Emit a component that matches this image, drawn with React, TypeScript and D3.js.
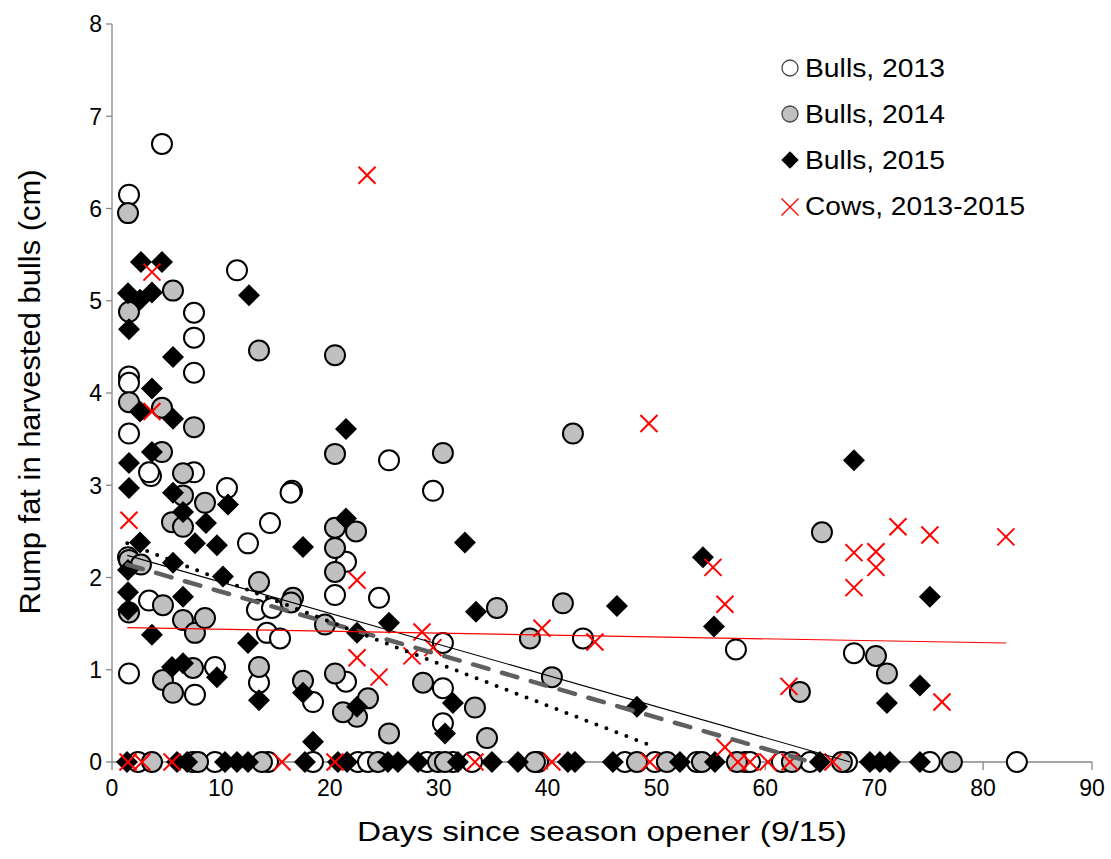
import React from "react";
import * as d3 from "d3";

// ---- Data (days since opener, rump fat cm) ----
const bulls2013: [number, number][] = [
  [4.59, 6.7], [1.56, 6.15], [11.48, 5.33], [7.53, 4.87], [7.53, 4.6], [7.53, 4.22],
  [1.56, 4.18], [1.56, 4.11], [1.56, 3.56], [3.58, 3.1], [3.4, 3.14], [7.53, 3.14],
  [10.56, 2.97], [16.53, 2.94], [16.4, 2.92], [14.51, 2.59], [12.49, 2.37], [25.44, 3.27],
  [29.48, 2.94], [21.49, 2.17], [20.48, 1.81], [24.52, 1.78], [30.39, 1.29], [21.49, 0.87],
  [30.39, 0.8], [18.46, 0.65], [30.39, 0.42], [43.25, 1.34], [57.3, 1.22], [68.14, 1.18],
  [3.4, 1.75], [13.31, 1.65], [14.69, 1.67], [14.23, 1.4], [15.43, 1.34], [9.46, 1.03],
  [1.56, 0.96], [7.62, 0.73], [13.5, 0.86], [1.47, 2.22],
];
const bulls2013Zero: number[] = [
  2.39, 7.44, 9.46, 14.33, 18.46, 22.59, 23.51, 28.93, 31.31, 33.06, 39.12, 47.11, 49.86,
  53.72, 58.13, 58.59, 61.52, 64.1, 67.49, 75.11, 83.1,
];

const bulls2014: [number, number][] = [
  [1.47, 5.95], [5.6, 5.11], [1.56, 4.88], [13.5, 4.46], [20.48, 4.41], [1.56, 3.9],
  [4.59, 3.84], [7.53, 3.63], [4.59, 3.36], [6.52, 3.13], [6.52, 2.89], [8.54, 2.81],
  [5.51, 2.6], [6.52, 2.55], [20.48, 3.34], [30.39, 3.35], [20.48, 2.54], [22.41, 2.5],
  [20.48, 2.32], [20.48, 2.06], [16.62, 1.78], [19.56, 1.49], [35.35, 1.67], [28.56, 0.86],
  [17.54, 0.88], [20.48, 0.96], [23.51, 0.69], [22.5, 0.49], [21.21, 0.54], [33.33, 0.59],
  [25.44, 0.31], [34.44, 0.26], [42.33, 3.56], [41.41, 1.72], [38.38, 1.34], [40.4, 0.92],
  [65.2, 2.49], [63.17, 0.76], [70.16, 1.15], [71.17, 0.96], [1.56, 2.19], [2.66, 2.14],
  [1.56, 1.62], [4.68, 1.7], [6.52, 1.54], [7.62, 1.4], [8.54, 1.56], [13.5, 1.95],
  [16.44, 1.73], [13.5, 1.03], [4.68, 0.89], [5.6, 0.75], [7.44, 1.02],
];
const bulls2014Zero: number[] = [
  3.67, 7.9, 13.77, 24.43, 29.94, 30.58, 38.84, 48.21, 50.96, 54.18, 57.39, 62.44, 67.03, 77.13,
];

const bulls2015: [number, number][] = [
  [2.66, 5.42], [4.59, 5.42], [1.47, 5.08], [2.57, 5.01], [3.67, 5.09], [1.56, 4.69],
  [12.58, 5.06], [5.6, 4.39], [3.67, 4.05], [2.57, 3.8], [5.6, 3.72], [3.67, 3.36],
  [1.56, 3.24], [1.56, 2.97], [5.6, 2.92], [6.52, 2.71], [8.63, 2.59], [10.65, 2.79],
  [2.57, 2.38], [7.62, 2.37], [9.64, 2.35], [17.54, 2.33], [5.6, 2.16], [1.47, 2.08],
  [1.47, 1.84], [1.47, 1.65], [6.52, 1.79], [10.19, 2.01], [3.67, 1.38], [12.49, 1.29],
  [5.51, 1.03], [6.52, 1.07], [9.64, 0.92], [13.5, 0.67], [21.49, 3.61], [21.49, 2.64],
  [32.41, 2.38], [33.43, 1.63], [25.44, 1.51], [22.5, 1.4], [17.54, 0.75], [22.5, 0.6],
  [31.31, 0.64], [30.58, 0.31], [18.46, 0.22], [46.37, 1.69], [55.28, 1.47], [54.27, 2.22],
  [48.21, 0.6], [68.14, 3.27], [75.11, 1.79], [74.2, 0.83], [71.17, 0.64],
];
const bulls2015Zero: number[] = [
  1.38, 5.97, 6.9, 10.38, 11.48, 12.49, 17.72, 20.75, 21.58, 25.34, 26.26, 28.1, 31.77,
  34.89, 37.28, 41.87, 42.52, 46.0, 52.16, 55.37, 65.01, 69.6, 70.52, 71.44, 74.2,
];

const cows: [number, number][] = [
  [23.42, 6.36], [3.67, 5.31], [3.67, 3.8], [1.56, 2.62], [49.31, 3.67], [22.5, 1.97],
  [28.47, 1.41], [29.48, 1.24], [22.5, 1.13], [27.55, 1.15], [24.52, 0.92], [39.49, 1.45],
  [44.35, 1.3], [55.19, 2.11], [56.29, 1.71], [62.17, 0.82], [56.29, 0.16], [72.18, 2.55],
  [75.11, 2.46], [82.09, 2.44], [68.14, 2.27], [70.16, 2.28], [70.16, 2.11], [68.14, 1.89],
  [76.22, 0.65],
];
const cowsZero: number[] = [
  1.47, 2.75, 5.51, 15.61, 20.48, 33.33, 40.4, 49.4, 57.48, 58.6, 60.24, 62.26, 66.21,
];

// trend lines (endpoints)
const trendSolid: [number, number][] = [[1.4, 2.24], [67.8, 0]];
const trendDashed: [number, number][] = [[1.4, 2.14], [63.6, 0.02]];
const trendDotted: [number, number][] = [[1.4, 2.37], [49.9, 0.16]];
const trendCows: [number, number][] = [[1.4, 1.456], [82.1, 1.29]];

const xTicks = [0, 10, 20, 30, 40, 50, 60, 70, 80, 90];
const yTicks = [0, 1, 2, 3, 4, 5, 6, 7, 8];

const legendItems = ["Bulls, 2013", "Bulls, 2014", "Bulls, 2015", "Cows, 2013-2015"];

const W = 1111;
const H = 859;
const FONT = "'Liberation Sans', Arial, sans-serif";

export default function App() {
  const x = d3.scaleLinear().domain([0, 90]).range([112, 1092]);
  const y = d3.scaleLinear().domain([0, 8]).range([762, 24]);
  const line = d3
    .line<[number, number]>()
    .x((d) => x(d[0]))
    .y((d) => y(d[1]));
  const diamond = d3.symbol().type(d3.symbolSquare).size(242)()!;
  const diamondLegend = d3.symbol().type(d3.symbolSquare).size(150)()!;

  const with0 = (arr: number[]): [number, number][] => arr.map((d) => [d, 0]);
  const s2013 = [...bulls2013, ...with0(bulls2013Zero)];
  const s2014 = [...bulls2014, ...with0(bulls2014Zero)];
  const s2015 = [...bulls2015, ...with0(bulls2015Zero)];
  const sCows = [...cows, ...with0(cowsZero)];
  const axisColor = "#878787";

  const Cross = ({ cx, cy, r, w }: { cx: number; cy: number; r: number; w: number }) => (
    <g>
      <line x1={cx - r} y1={cy - r} x2={cx + r} y2={cy + r} stroke="#ff0000" strokeWidth={w} />
      <line x1={cx - r} y1={cy + r} x2={cx + r} y2={cy - r} stroke="#ff0000" strokeWidth={w} />
    </g>
  );

  return (
    <svg
      width={W}
      height={H}
      style={{ position: "absolute", left: 0, top: 0, background: "#fff" }}
      fontFamily={FONT}
    >
      <rect x={0} y={0} width={W} height={H} fill="#fff" />
      {/* axes */}
      <line x1={x(0)} y1={y(0)} x2={x(0)} y2={y(8)} stroke={axisColor} strokeWidth={1.3} />
      <line x1={x(0)} y1={y(0)} x2={x(90)} y2={y(0)} stroke={axisColor} strokeWidth={1.3} />
      {yTicks.map((t) => (
        <g key={"yt" + t}>
          <line x1={x(0) - 6} x2={x(0)} y1={y(t)} y2={y(t)} stroke={axisColor} strokeWidth={1.3} />
          <text x={x(0) - 10} y={y(t)} dy="0.36em" textAnchor="end" fontSize={23} fill="#000">
            {t}
          </text>
        </g>
      ))}
      {xTicks.map((t) => (
        <g key={"xt" + t}>
          <line x1={x(t)} x2={x(t)} y1={y(0)} y2={y(0) + 8} stroke={axisColor} strokeWidth={1.3} />
          <text x={x(t)} y={y(0) + 34} textAnchor="middle" fontSize={23} fill="#000">
            {t}
          </text>
        </g>
      ))}
      {/* axis titles */}
      <text
        x={(x(0) + x(90)) / 2}
        y={841}
        textAnchor="middle"
        fontSize={28}
        textLength={490}
        lengthAdjust="spacingAndGlyphs"
      >
        Days since season opener (9/15)
      </text>
      <text
        transform={`translate(40, ${392}) rotate(-90)`}
        textAnchor="middle"
        fontSize={29}
        textLength={445}
        lengthAdjust="spacingAndGlyphs"
      >
        Rump fat in harvested bulls (cm)
      </text>

      {/* series */}
      {s2013.map((d, i) => (
        <circle key={"a" + i} cx={x(d[0])} cy={y(d[1])} r={10} fill="#fff" stroke="#000" strokeWidth={2} />
      ))}
      {s2014.map((d, i) => (
        <circle key={"b" + i} cx={x(d[0])} cy={y(d[1])} r={10} fill="#c0c0c0" stroke="#000" strokeWidth={2} />
      ))}
      {s2015.map((d, i) => (
        <path
          key={"c" + i}
          d={diamond}
          transform={`translate(${x(d[0])},${y(d[1])}) rotate(45)`}
          fill="#000"
        />
      ))}
      {sCows.map((d, i) => (
        <Cross key={"d" + i} cx={x(d[0])} cy={y(d[1])} r={8.5} w={2} />
      ))}

      {/* trend lines */}
      <path d={line(trendSolid)!} stroke="#000" strokeWidth={1.1} fill="none" />
      <path
        d={line(trendDashed)!}
        stroke="#5f5f5f"
        strokeWidth={4.5}
        strokeDasharray="16 14"
        strokeLinecap="round"
        fill="none"
      />
      <path
        d={line(trendDotted)!}
        stroke="#000"
        strokeWidth={4}
        strokeDasharray="0 10.7"
        strokeLinecap="round"
        fill="none"
      />
      <path d={line(trendCows)!} stroke="#ff0000" strokeWidth={1.2} fill="none" />

      {/* legend */}
      {legendItems.map((name, i) => {
        const cy = 68 + i * 46;
        const cx = 790;
        return (
          <g key={"lg" + i}>
            {i === 0 && <circle cx={cx} cy={cy} r={8} fill="#fff" stroke="#444" strokeWidth={1.3} />}
            {i === 1 && <circle cx={cx} cy={cy} r={8} fill="#c0c0c0" stroke="#444" strokeWidth={1.3} />}
            {i === 2 && <path d={diamondLegend} transform={`translate(${cx},${cy}) rotate(45)`} fill="#000" />}
            {i === 3 && <Cross cx={cx} cy={cy + 1} r={8.5} w={1.2} />}
            <text
              x={805}
              y={cy + 9}
              fontSize={25}
              textLength={i === 3 ? 220 : 140}
              lengthAdjust="spacingAndGlyphs"
            >
              {name}
            </text>
          </g>
        );
      })}
    </svg>
  );
}
